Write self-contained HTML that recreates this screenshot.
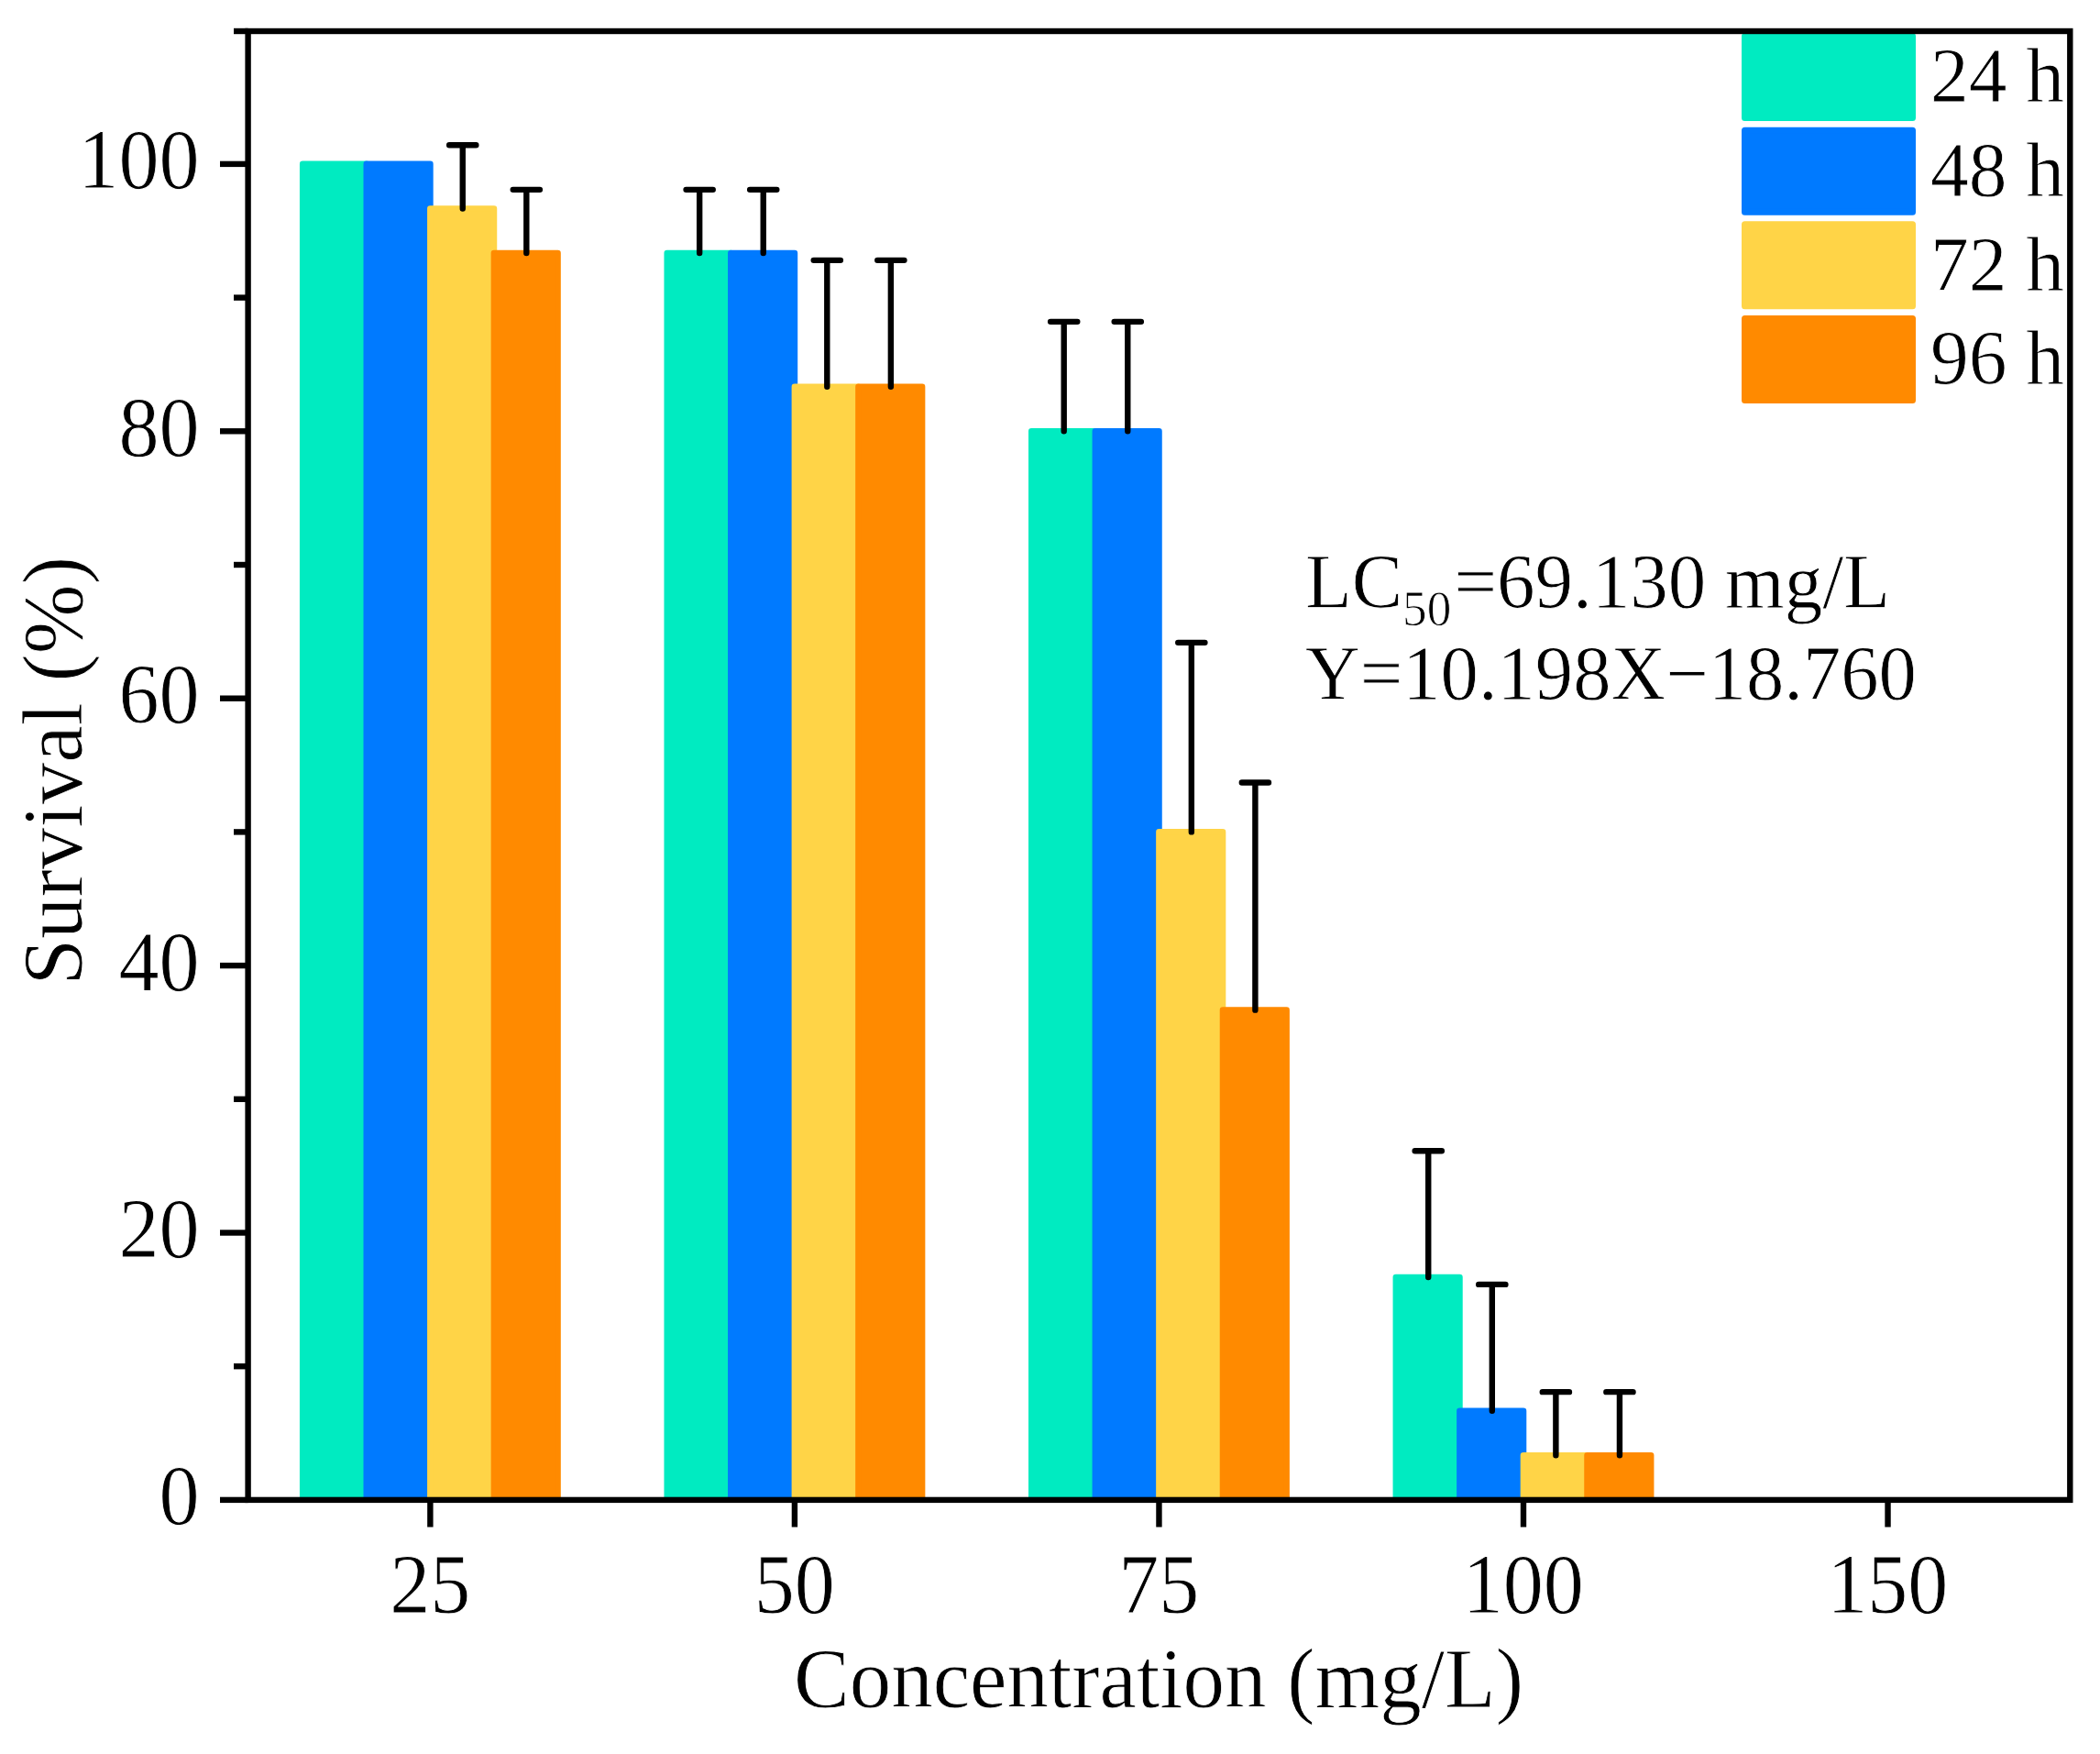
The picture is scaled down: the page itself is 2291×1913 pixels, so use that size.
<!DOCTYPE html>
<html lang="en"><head><meta charset="utf-8"><title>Survival vs concentration</title>
<style>html,body{margin:0;padding:0;background:#fff}body{width:2291px;height:1913px;overflow:hidden}svg{display:block}text{stroke:#fff;stroke-width:0.8px;font-kerning:none;font-family:"Liberation Serif","Times New Roman",Times,serif;fill:#000}</style></head><body>
<svg width="2291" height="1913" viewBox="0 0 2291 1913">
<rect x="0" y="0" width="2291" height="1913" fill="#fff"/>
<g stroke-linejoin="round" stroke-width="6.60">
<path d="M330.23 1635.90V178.90H399.80V1635.90" fill="#00EBC1" stroke="#00EBC1"/>
<path d="M399.80 1635.90V178.90H469.37V1635.90" fill="#007AFF" stroke="#007AFF"/>
<path d="M469.37 1635.90V227.46H538.94V1635.90" fill="#FFD447" stroke="#FFD447"/>
<path d="M538.94 1635.90V276.04H608.51V1635.90" fill="#FF8A00" stroke="#FF8A00"/>
<path d="M727.77 1635.90V276.04H797.34V1635.90" fill="#00EBC1" stroke="#00EBC1"/>
<path d="M797.34 1635.90V276.04H866.91V1635.90" fill="#007AFF" stroke="#007AFF"/>
<path d="M866.91 1635.90V421.74H936.48V1635.90" fill="#FFD447" stroke="#FFD447"/>
<path d="M936.48 1635.90V421.74H1006.05V1635.90" fill="#FF8A00" stroke="#FF8A00"/>
<path d="M1125.31 1635.90V470.30H1194.88V1635.90" fill="#00EBC1" stroke="#00EBC1"/>
<path d="M1194.88 1635.90V470.30H1264.45V1635.90" fill="#007AFF" stroke="#007AFF"/>
<path d="M1264.45 1635.90V907.40H1334.02V1635.90" fill="#FFD447" stroke="#FFD447"/>
<path d="M1334.02 1635.90V1101.66H1403.59V1635.90" fill="#FF8A00" stroke="#FF8A00"/>
<path d="M1522.85 1635.90V1393.06H1592.42V1635.90" fill="#00EBC1" stroke="#00EBC1"/>
<path d="M1592.42 1635.90V1538.76H1661.99V1635.90" fill="#007AFF" stroke="#007AFF"/>
<path d="M1661.99 1635.90V1587.34H1731.56V1635.90" fill="#FFD447" stroke="#FFD447"/>
<path d="M1731.56 1635.90V1587.34H1801.13V1635.90" fill="#FF8A00" stroke="#FF8A00"/>
</g>
<g stroke="#000" stroke-width="6.40" stroke-linecap="round" fill="none">
<path d="M504.75 227.46V158.28M490.15 158.28H519.35"/>
<path d="M574.32 276.04V206.86M559.72 206.86H588.92"/>
<path d="M763.16 276.04V206.86M748.56 206.86H777.76"/>
<path d="M832.73 276.04V206.86M818.13 206.86H847.33"/>
<path d="M902.29 421.74V283.87M887.69 283.87H916.89"/>
<path d="M971.86 421.74V283.87M957.26 283.87H986.46"/>
<path d="M1160.70 470.30V350.84M1146.10 350.84H1175.30"/>
<path d="M1230.27 470.30V350.84M1215.67 350.84H1244.87"/>
<path d="M1299.83 907.40V700.85M1285.23 700.85H1314.43"/>
<path d="M1369.40 1101.66V853.52M1354.80 853.52H1384.00"/>
<path d="M1558.24 1393.06V1255.20M1543.64 1255.20H1572.84"/>
<path d="M1627.81 1538.76V1400.90M1613.21 1400.90H1642.41"/>
<path d="M1697.37 1587.34V1518.16M1682.77 1518.16H1711.97"/>
<path d="M1766.94 1587.34V1518.16M1752.34 1518.16H1781.54"/>
</g>
<g stroke-linejoin="round" stroke-width="7">
<rect x="1903.50" y="39.50" width="183.00" height="89.00" fill="#00EBC1" stroke="#00EBC1"/>
<rect x="1903.50" y="142.17" width="183.00" height="89.00" fill="#007AFF" stroke="#007AFF"/>
<rect x="1903.50" y="244.84" width="183.00" height="89.00" fill="#FFD447" stroke="#FFD447"/>
<rect x="1903.50" y="347.51" width="183.00" height="89.00" fill="#FF8A00" stroke="#FF8A00"/>
</g>
<g stroke="#000" stroke-width="6.40" fill="none" stroke-linecap="butt">
<rect x="270.60" y="34.00" width="1987.70" height="1601.90" stroke-linejoin="miter"/>
<path d="M240.00 1635.90H270.60"/>
<path d="M240.00 1344.50H270.60"/>
<path d="M240.00 1053.10H270.60"/>
<path d="M240.00 761.70H270.60"/>
<path d="M240.00 470.30H270.60"/>
<path d="M240.00 178.90H270.60"/>
<path d="M255.00 1490.20H270.60"/>
<path d="M255.00 1198.80H270.60"/>
<path d="M255.00 907.40H270.60"/>
<path d="M255.00 616.00H270.60"/>
<path d="M255.00 324.60H270.60"/>
<path d="M255.00 34.00H270.60"/>
<path d="M469.37 1635.90V1665.50"/>
<path d="M866.91 1635.90V1665.50"/>
<path d="M1264.45 1635.90V1665.50"/>
<path d="M1661.99 1635.90V1665.50"/>
<path d="M2059.53 1635.90V1665.50"/>
</g>
<text transform="translate(217.50 1662.40) scale(0.9400 1)" font-size="93.73" text-anchor="end">0</text>
<text transform="translate(217.50 1371.00) scale(0.9400 1)" font-size="93.73" text-anchor="end">20</text>
<text transform="translate(217.50 1079.60) scale(0.9400 1)" font-size="93.73" text-anchor="end">40</text>
<text transform="translate(217.50 788.20) scale(0.9400 1)" font-size="93.73" text-anchor="end">60</text>
<text transform="translate(217.50 496.80) scale(0.9400 1)" font-size="93.73" text-anchor="end">80</text>
<text transform="translate(217.50 205.40) scale(0.9400 1)" font-size="93.73" text-anchor="end">100</text>
<text transform="translate(469.17 1758.60) scale(0.9400 1)" font-size="93.73" text-anchor="middle">25</text>
<text transform="translate(866.71 1758.60) scale(0.9400 1)" font-size="93.73" text-anchor="middle">50</text>
<text transform="translate(1264.25 1758.60) scale(0.9400 1)" font-size="93.73" text-anchor="middle">75</text>
<text transform="translate(1661.79 1758.60) scale(0.9400 1)" font-size="93.73" text-anchor="middle">100</text>
<text transform="translate(2059.33 1758.60) scale(0.9400 1)" font-size="93.73" text-anchor="middle">150</text>
<text transform="translate(1264.00 1861.50) scale(0.9709 1)" font-size="93.73" text-anchor="middle">Concentration (mg/L)</text>
<text transform="translate(88.60 840.80) rotate(-90) scale(0.9709 1)" font-size="93.73" text-anchor="middle">Survival (%)</text>
<text transform="translate(2106.00 111.30) scale(0.9800 1)" font-size="85.18" text-anchor="start">24 h</text>
<text transform="translate(2106.00 213.97) scale(0.9800 1)" font-size="85.18" text-anchor="start">48 h</text>
<text transform="translate(2106.00 316.64) scale(0.9800 1)" font-size="85.18" text-anchor="start">72 h</text>
<text transform="translate(2106.00 419.31) scale(0.9800 1)" font-size="85.18" text-anchor="start">96 h</text>
<text transform="translate(1424.00 663.30) scale(0.9750 1)" font-size="85.18" text-anchor="start">LC<tspan font-size="54.52" dy="18.5">50</tspan><tspan dy="-18.5" dx="3">=69.130 mg/L</tspan></text>
<text transform="translate(1424.00 762.70) scale(0.9700 1)" font-size="85.18" text-anchor="start">Y=10.198X−18.760</text>
</svg></body></html>
